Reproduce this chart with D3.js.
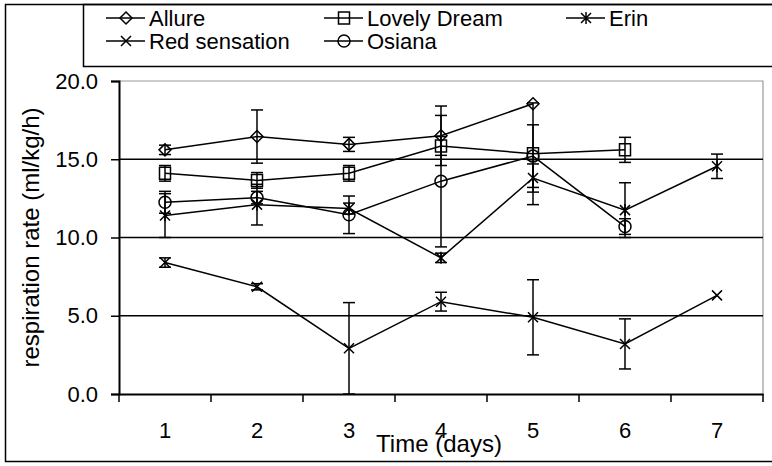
<!DOCTYPE html>
<html>
<head>
<meta charset="UTF-8">
<title>Respiration rate</title>
<script src="https://d3js.org/d3.v7.min.js"></script>
<style>
  body { margin: 0; background: #fff; }
  svg { display: block; font-family: "Liberation Sans", Arial, sans-serif; }
</style>
</head>
<body>
<svg id="chart" width="772" height="466"></svg>
<script>
// days on the x axis
const days = [1, 2, 3, 4, 5, 6, 7];
const yTicks = [0, 5, 10, 15, 20];

// mean respiration rate (ml/kg/h) and error per day
const allure = [15.6, 16.45, 15.95, 16.5, 18.55];
const allureErr = [0.3, 1.7, 0.45, 1.9, 0];
const lovelyDream = [14.1, 13.65, 14.1, 15.85, 15.35, 15.6];
const lovelyDreamErr = [0.5, 0.5, 0.5, 0.6, 3.25, 0.8];
const erin = [11.4, 12.1, 11.85, 8.7, 13.8, 11.75, 14.55];
const erinErr = [1.4, 1.3, 0.35, 0.3, 0.9, 1.75, 0.78];
const redSensation = [8.4, 6.85, 2.92, 5.9, 4.9, 3.2, 6.3];
const redSensationErr = [0.3, 0.2, 2.92, 0.6, 2.4, 1.6, 0];
const osiana = [12.25, 12.55, 11.45, 13.6, 15.2, 10.7];
const osianaErr = [0.7, 0.4, 1.2, 4.2, 2.0, 0.5];

const series = [
  {name: "Allure", values: allure, err: allureErr, marker: "diamond"},
  {name: "Lovely Dream", values: lovelyDream, err: lovelyDreamErr, marker: "square"},
  {name: "Erin", values: erin, err: erinErr, marker: "asterisk"},
  {name: "Red sensation", values: redSensation, err: redSensationErr, marker: "x"},
  {name: "Osiana", values: osiana, err: osianaErr, marker: "circle"}
];

const svg = d3.select("#chart");
const plot = {left: 119, right: 763, top: 81, bottom: 394};

const x = d3.scaleBand().domain(days).range([plot.left, plot.right]);
const y = d3.scaleLinear().domain([0, 20]).range([plot.bottom, plot.top]);
const cx = d => x(d) + x.bandwidth() / 2;

// outer frame and legend box (both run off the right edge)
svg.append("rect").attr("x", 5.5).attr("y", 4.5).attr("width", 800).attr("height", 457)
  .attr("fill", "none").attr("stroke", "#000").attr("stroke-width", 1.5);
svg.append("rect").attr("x", 83.5).attr("y", 4.5).attr("width", 800).attr("height", 62)
  .attr("fill", "none").attr("stroke", "#000").attr("stroke-width", 1.5);

// plot border top/right in grey
svg.append("path")
  .attr("d", `M${plot.left},${plot.top}H${plot.right}V${plot.bottom}`)
  .attr("fill", "none").attr("stroke", "#999").attr("stroke-width", 1.2);

// gridlines
svg.append("g").selectAll("line")
  .data(yTicks.filter(t => t > 0 && t < 20))
  .join("line")
  .attr("x1", plot.left).attr("x2", plot.right)
  .attr("y1", d => y(d)).attr("y2", d => y(d))
  .attr("stroke", "#000").attr("stroke-width", 1.5);

// y axis
const yAxis = svg.append("g")
  .attr("transform", `translate(${plot.left},0)`)
  .call(d3.axisLeft(y).tickValues(yTicks).tickFormat(d3.format(".1f")).tickSize(8).tickPadding(13));
yAxis.select(".domain").attr("stroke-width", 2);
yAxis.selectAll(".tick line").attr("stroke-width", 1.5);
yAxis.selectAll("text").attr("font-size", 22).attr("font-family", "Liberation Sans, Arial, sans-serif");

// x axis: ticks sit between categories
const xAxis = svg.append("g")
  .attr("transform", `translate(0,${plot.bottom})`)
  .call(d3.axisBottom(x).tickSize(0).tickPadding(28));
xAxis.select(".domain").attr("stroke-width", 2);
xAxis.selectAll("text").attr("font-size", 22).attr("font-family", "Liberation Sans, Arial, sans-serif");
svg.append("g").selectAll("line")
  .data(days.concat([8]))
  .join("line")
  .attr("x1", (d, i) => plot.left + i * x.bandwidth())
  .attr("x2", (d, i) => plot.left + i * x.bandwidth())
  .attr("y1", plot.bottom).attr("y2", plot.bottom + 8)
  .attr("stroke", "#000").attr("stroke-width", 1.5);

// axis titles
svg.append("text")
  .attr("x", 439).attr("y", 452)
  .attr("text-anchor", "middle").attr("font-size", 24)
  .text("Time (days)");
svg.append("text")
  .attr("transform", `translate(39,${(plot.top + plot.bottom) / 2}) rotate(-90)`)
  .attr("text-anchor", "middle").attr("font-size", 24)
  .text("respiration rate (ml/kg/h)");

function markerPath(type) {
  switch (type) {
    case "diamond": return "M0,-6L6,0L0,6L-6,0Z";
    case "square": return "M-5.5,-6H5.5V6H-5.5Z";
    case "circle": return d3.symbol(d3.symbolCircle, 113)();
    case "x": return "M-5,-5L5,5M-5,5L5,-5";
    case "asterisk": return "M-5,-5L5,5M-5,5L5,-5M0,-6V6";
  }
}

const line = d3.line().x(d => cx(d.day)).y(d => y(d.v));

series.forEach(s => {
  const pts = s.values.map((v, i) => ({day: days[i], v: v, e: s.err[i]}));
  const g = svg.append("g");

  g.append("path").datum(pts)
    .attr("d", line)
    .attr("fill", "none").attr("stroke", "#000").attr("stroke-width", 1.5);

  const eb = g.selectAll("g.err").data(pts.filter(p => p.e > 0)).join("g").attr("class", "err");
  eb.append("line")
    .attr("x1", d => cx(d.day)).attr("x2", d => cx(d.day))
    .attr("y1", d => y(d.v - d.e)).attr("y2", d => y(d.v + d.e));
  eb.append("line")
    .attr("x1", d => cx(d.day) - 6).attr("x2", d => cx(d.day) + 6)
    .attr("y1", d => y(d.v + d.e)).attr("y2", d => y(d.v + d.e));
  eb.append("line")
    .attr("x1", d => cx(d.day) - 6).attr("x2", d => cx(d.day) + 6)
    .attr("y1", d => y(d.v - d.e)).attr("y2", d => y(d.v - d.e));
  eb.selectAll("line").attr("stroke", "#000").attr("stroke-width", 1.5);

  g.selectAll("path.mk").data(pts).join("path").attr("class", "mk")
    .attr("transform", d => `translate(${cx(d.day)},${y(d.v)})`)
    .attr("d", markerPath(s.marker))
    .attr("fill", "none").attr("stroke", "#000").attr("stroke-width", 1.5);
});

// legend
const legendCols = [106, 324, 566];
const legendRows = [18, 41];
series.forEach((s, i) => {
  const lx = legendCols[i % 3], ly = legendRows[Math.floor(i / 3)];
  const g = svg.append("g").attr("transform", `translate(${lx},${ly})`);
  g.append("line").attr("x1", 0).attr("x2", 39).attr("y1", 0).attr("y2", 0)
    .attr("stroke", "#000").attr("stroke-width", 1.5);
  g.append("path").attr("transform", "translate(20,0)")
    .attr("d", markerPath(s.marker))
    .attr("fill", "none").attr("stroke", "#000").attr("stroke-width", 1.5);
  g.append("text").attr("x", 43).attr("y", 8).attr("font-size", 22).text(s.name);
});
</script>
</body>
</html>
